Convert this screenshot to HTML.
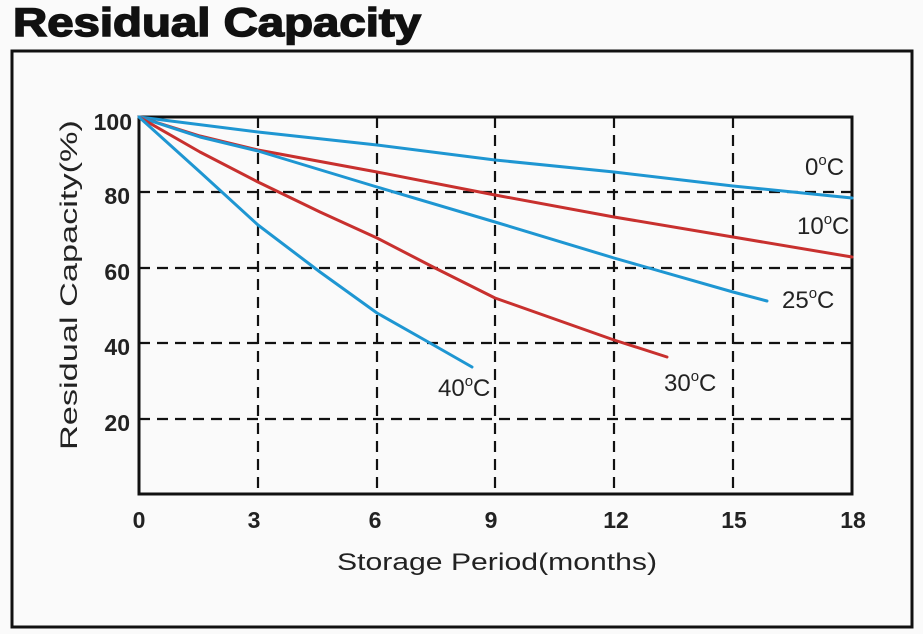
<!DOCTYPE html>
<html><head><meta charset="utf-8"><style>
body{margin:0;background:#fafafa;}
svg{display:block;}
</style></head><body>
<svg width="923" height="634" viewBox="0 0 923 634" xmlns="http://www.w3.org/2000/svg">
<rect width="923" height="634" fill="#fafafa"/>
<text x="13" y="36" font-family="Liberation Sans, sans-serif" font-weight="bold" font-size="40" fill="#111" stroke="#111" stroke-width="1.5" textLength="408" lengthAdjust="spacingAndGlyphs">Residual Capacity</text>
<rect x="12" y="51" width="900" height="576" fill="none" stroke="#111" stroke-width="3"/>
<g stroke="#111" stroke-width="2.2" stroke-dasharray="11,7" fill="none">
<line x1="139" y1="192" x2="852" y2="192"/>
<line x1="139" y1="268" x2="852" y2="268"/>
<line x1="139" y1="343" x2="852" y2="343"/>
<line x1="139" y1="419" x2="852" y2="419"/>
<line x1="258" y1="117" x2="258" y2="494"/>
<line x1="377" y1="117" x2="377" y2="494"/>
<line x1="495" y1="117" x2="495" y2="494"/>
<line x1="614" y1="117" x2="614" y2="494"/>
<line x1="733" y1="117" x2="733" y2="494"/>
</g>
<rect x="139" y="117" width="713" height="377" fill="none" stroke="#111" stroke-width="3"/>
<g fill="none" stroke-width="3" stroke-linecap="round" stroke-linejoin="round">
<polyline points="139,117 258,132 377,145 495,160 614,172 733,186 852,198" stroke="#1e96d2"/>
<polyline points="139,117 200,136 258,150 377,172 495,195 614,217 733,237 852,257" stroke="#c8302e"/>
<polyline points="139,117 200,137 258,151 377,187 495,222 614,258 733,292 767,301" stroke="#1e96d2"/>
<polyline points="139,117 200,152 258,182 320,212 377,238 435,268 495,298 614,340 667,357" stroke="#c8302e"/>
<polyline points="139,117 200,172 258,225 320,272 377,313 430,343 472,367" stroke="#1e96d2"/>
</g>
<g font-family="Liberation Sans, sans-serif" font-weight="bold" font-size="23" fill="#222">
<text x="132" y="130" text-anchor="end">100</text>
<text x="130" y="204" text-anchor="end">80</text>
<text x="130" y="280" text-anchor="end">60</text>
<text x="130" y="355" text-anchor="end">40</text>
<text x="130" y="431" text-anchor="end">20</text>
<g text-anchor="middle">
<text x="139" y="528">0</text><text x="254" y="528">3</text><text x="375" y="528">6</text>
<text x="491" y="528">9</text><text x="616" y="528">12</text><text x="734" y="528">15</text><text x="853" y="528">18</text>
</g></g>
<g font-family="Liberation Sans, sans-serif" font-size="24" fill="#222">
<text x="337" y="570" textLength="320" lengthAdjust="spacingAndGlyphs">Storage Period(months)</text>
<text transform="translate(77,450) rotate(-90)" textLength="330" lengthAdjust="spacingAndGlyphs">Residual Capacity(%)</text>
<text x="805" y="175">0<tspan font-size="15" dy="-10">o</tspan><tspan dy="10">C</tspan></text>
<text x="797" y="234">10<tspan font-size="15" dy="-10">o</tspan><tspan dy="10">C</tspan></text>
<text x="782" y="308">25<tspan font-size="15" dy="-10">o</tspan><tspan dy="10">C</tspan></text>
<text x="664" y="391">30<tspan font-size="15" dy="-10">o</tspan><tspan dy="10">C</tspan></text>
<text x="438" y="396">40<tspan font-size="15" dy="-10">o</tspan><tspan dy="10">C</tspan></text>
</g>
</svg>
</body></html>
